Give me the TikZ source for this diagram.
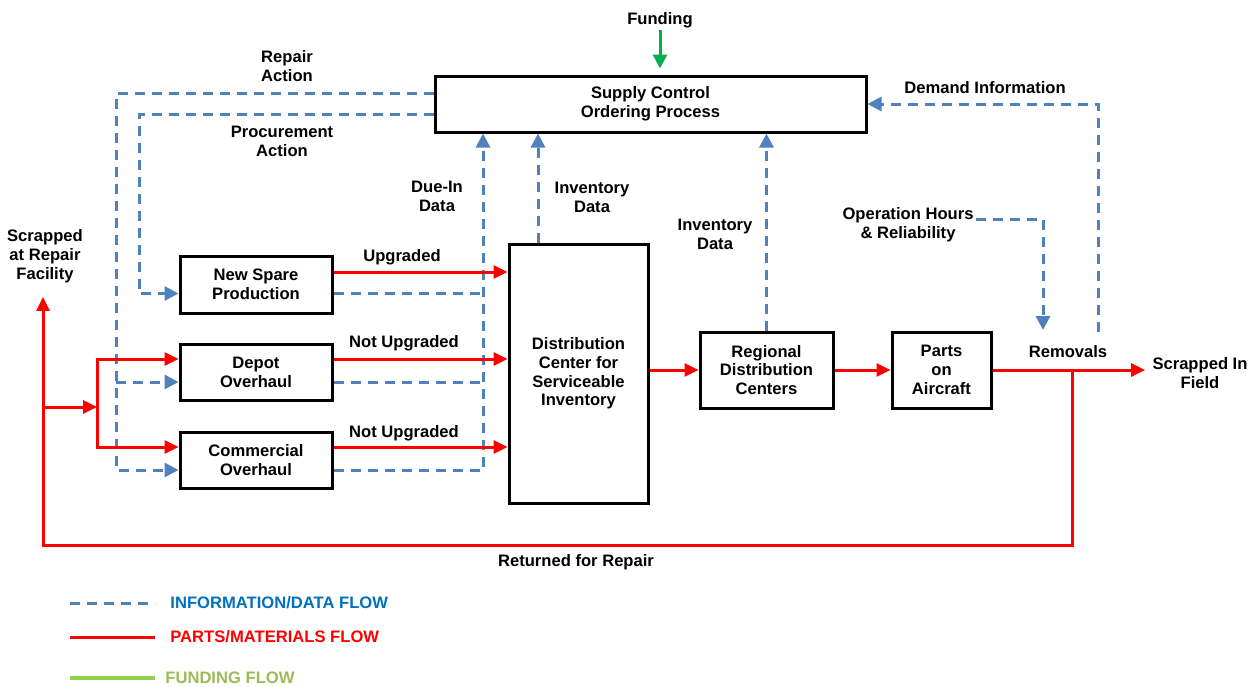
\documentclass[tikz,border=0pt]{standalone}
\usepackage{fontspec}
\setmainfont{Liberation Sans}
\usetikzlibrary{arrows.meta}

\definecolor{infoblue}{HTML}{4F81BD}
\definecolor{legblue}{HTML}{0070C0}
\definecolor{fundgreen}{HTML}{00B050}
\definecolor{leggreen}{HTML}{92D050}
\definecolor{legolive}{HTML}{9BBB59}

\newcommand{\lblfont}{\fontsize{8.3}{9.4}\selectfont\bfseries}

\tikzset{
  box/.style={draw, line width=1.5pt, inner sep=0pt, align=center, font=\lblfont},
  lbl/.style={inner sep=1pt, align=center, font=\lblfont},
  info/.style={draw=infoblue, line width=1.5pt, dash pattern=on 5pt off 3.5pt, -{Triangle[length=7pt,width=7pt]}},
  part/.style={draw=red, line width=1.5pt, -{Triangle[length=7pt,width=6.5pt]}},
  fund/.style={draw=fundgreen, line width=1.5pt, -{Triangle[length=7pt,width=7pt]}},
}

\begin{document}
\begin{tikzpicture}[x=0.5pt, y=-0.5pt]
    \useasboundingbox (0,0) rectangle (1259,686);

    % boxes
    \node [box, minimum width=215.5pt, minimum height=28pt] (supply) at (650.5,104) {Supply Control\\Ordering Process};
    \node [box, minimum width=76pt, minimum height=28.5pt] (spare) at (256,284.5) {New Spare\\Production};
    \node [box, minimum width=76pt, minimum height=28pt] (depot) at (256,372) {Depot\\Overhaul};
    \node [box, minimum width=76pt, minimum height=28pt] (comm) at (256,460) {Commercial\\Overhaul};
    \node [box, minimum width=69.5pt, minimum height=129.5pt] (dc) at (578.5,373.5) {Distribution\\Center for\\Serviceable\\Inventory};
    \node [box, minimum width=66.5pt, minimum height=38pt] (regional) at (766.5,370) {Regional\\Distribution\\Centers};
    \node [box, minimum width=49.5pt, minimum height=38pt] (parts) at (941.5,370) {Parts\\on\\Aircraft};

    % labels
    \node [lbl] (funding) at (660,20) {Funding};
    \node [lbl] (repact) at (287,66) {Repair\\Action};
    \node [lbl] (proact) at (282,141) {Procurement\\Action};
    \node [lbl] (duein) at (437,196) {Due-In\\Data};
    \node [lbl] (invdc) at (592,197) {Inventory\\Data};
    \node [lbl] (invreg) at (715,234) {Inventory\\Data};
    \node [lbl] (demand) at (985,88) {Demand Information};
    \node [lbl] (ophours) at (908,225) {Operation Hours\\\& Reliability};
    \node [lbl] (removals) at (1068,352) {Removals};
    \node [lbl] (fieldscrap) at (1200,373) {Scrapped In\\Field};
    \node [lbl] (repscrap) at (45,256) {Scrapped\\at Repair\\Facility};
    \node [lbl] (upg) at (402,257) {Upgraded};
    \node [lbl] (notupgd) at (404,343) {Not Upgraded};
    \node [lbl] (notupgc) at (404,433) {Not Upgraded};
    \node [lbl] (returned) at (576,562) {Returned for Repair};

    % corner points
    \coordinate (repbus) at (116,93);
    \coordinate (probus) at (139,114);
    \coordinate (duex) at (483,0);
    \coordinate (invx) at (538,0);
    \coordinate (dem) at (1098,332);
    \coordinate (opin) at (1043,330);
    \coordinate (retx) at (1072,370);
    \coordinate (retR) at (1072,545);
    \coordinate (retL) at (43,545);
    \coordinate (split) at (97,407);
    \coordinate (sparein) at ([yshift=-4.5pt]spare.west);
    \coordinate (depin) at ([yshift=-5pt]depot.west);
    \coordinate (commin) at ([yshift=-5pt]comm.west);
    \coordinate (spareout) at ([yshift=-4.5pt]spare.east);
    \coordinate (depout) at ([yshift=-5pt]depot.east);
    \coordinate (commout) at ([yshift=-5pt]comm.east);

    % information / data flow
    \draw [info] (supply.west |- repbus) -- (repbus) |- (commin);
    \draw [info] (repbus |- depin) -- (depin);
    \draw [info] (supply.west |- probus) -- (probus) |- (sparein);
    \draw [info] (commout) -| (supply.south -| duex);
    \draw [info, -] (spareout) -- (spareout -| duex);
    \draw [info, -] (depout) -- (depout -| duex);
    \draw [info] (dc.north -| invx) -- (supply.south -| invx);
    \draw [info] (regional.north) -- (supply.south -| regional.north);
    \draw [info] (dem) |- (supply.east);
    \draw [info] ([yshift=3pt]ophours.east) -| (opin);

    % parts / materials flow
    \draw [part] ([yshift=6.25pt]spare.east) -- ([yshift=6.25pt]spare.east -| dc.west);
    \draw [part] ([yshift=6.5pt]depot.east) -- ([yshift=6.5pt]depot.east -| dc.west);
    \draw [part] ([yshift=6.5pt]comm.east) -- ([yshift=6.5pt]comm.east -| dc.west);
    \draw [part] (dc.east |- regional.west) -- (regional.west);
    \draw [part] (regional.east) -- (parts.west);
    \draw [part] (parts.east) -- ([xshift=-2.5pt]fieldscrap.west |- parts.east);
    \draw [part] (retx) -- (retR) -- (retL) -- ([yshift=-6pt]retL |- repscrap.south);
    \draw [part] (retL |- split) -- (split);
    \draw [part] (split) |- ([yshift=6.5pt]depot.west);
    \draw [part] (split) |- ([yshift=6.5pt]comm.west);

    % funding
    \draw [fund] (funding.south) -- ([yshift=3pt]funding.south |- supply.north);

    % legend
    \coordinate (legA) at (70,603);
    \coordinate (legB) at (70,637);
    \coordinate (legC) at (70,678);
    \node [lbl, anchor=west, text=legblue] (leginfo) at (168,603) {INFORMATION/DATA FLOW};
    \node [lbl, anchor=west, text=red] (legpart) at (168,637) {PARTS/MATERIALS FLOW};
    \node [lbl, anchor=west, text=legolive] (legfund) at (163,678) {FUNDING FLOW};
    \draw [info, -] (legA) -- (legA -| 155,0);
    \draw [part, -] (legB) -- (legB -| 155,0);
    \draw [draw=leggreen, line width=2pt] (legC) -- (legC -| 155,0);
\end{tikzpicture}
\end{document}
